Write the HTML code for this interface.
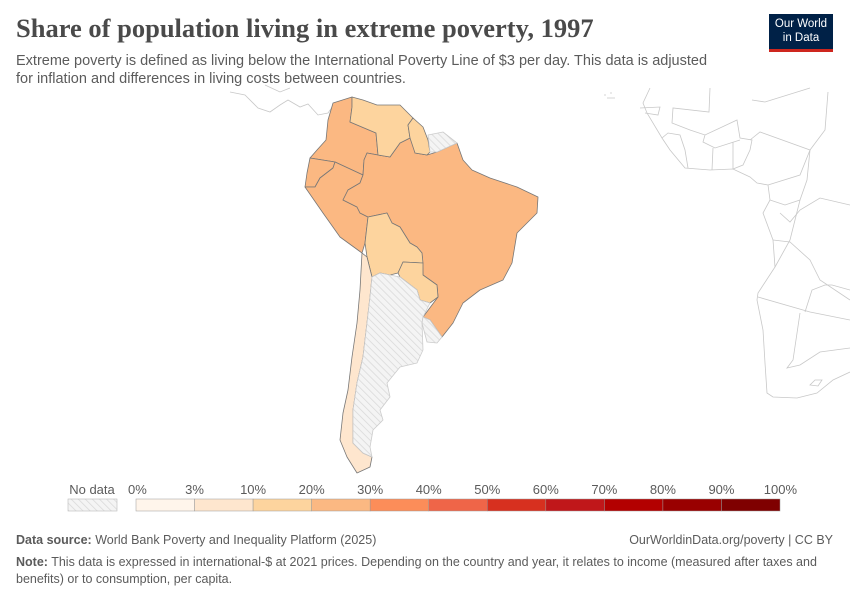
<!DOCTYPE html>
<html><head><meta charset="utf-8">
<style>
body{margin:0;width:850px;height:600px;background:#fff;font-family:"Liberation Sans",sans-serif;overflow:hidden;position:relative}
.t{position:absolute;left:16px;top:13px;font-family:"Liberation Serif",serif;font-weight:bold;font-size:26.5px;color:#4a4a4a;margin:0}
.s{position:absolute;left:16px;top:52px;font-size:14.5px;line-height:18px;color:#5b5b5b;width:700px}
.logo{position:absolute;left:769px;top:14px;width:64px;height:38px;background:#002147;border-bottom:3px solid #ce261e;color:#fff;font-size:11.5px;line-height:14px;text-align:center;padding-top:3px;box-sizing:border-box}
.f{position:absolute;left:16px;font-size:12.5px;color:#5b5b5b}
</style></head><body>
<h1 class="t">Share of population living in extreme poverty, 1997</h1>
<div class="s">Extreme poverty is defined as living below the International Poverty Line of $3 per day. This data is adjusted for inflation and differences in living costs between countries.</div>
<div class="logo">Our World<br>in Data</div>
<svg id="map" width="850" height="600" style="position:absolute;left:0;top:0">
<defs><pattern id="hatch" width="5" height="5" patternUnits="userSpaceOnUse" patternTransform="rotate(-45)"><rect width="5" height="5" fill="#f4f4f4"/><line x1="0" y1="0" x2="0" y2="5" stroke="#d8d8d8" stroke-width="1.5"/></pattern></defs>
<g fill="none" stroke="#c8c8c8" stroke-width="0.8">
<path d="M650,88 L643,103 L647,113 L662,138 L670,150 L685,168 L710,170 L733,169 L750,177 L757,183 L768,185 L770,200 L763,213 L773,240 L775,267 L758,293 L757,300 L763,330 L765,363 L767,393 L773,397 L797,398 L817,393 L833,380 L850,372"/>
<path d="M710,88 L709,112 L673,108 L672,123 L690,130 L705,135 L737,120 L740,138 L752,140 L750,150 L743,165 L733,169"/>
<path d="M705,135 L703,142 L715,148 L740,140 M713,148 L712,170 M733,142 L733,169 M750,140 L760,132 L810,150 L800,175 L768,185"/>
<path d="M752,100 L765,102 L810,88 M828,92 L825,130 L810,150 M810,150 L807,180 L800,200 L790,240 L775,267"/>
<path d="M770,200 L785,205 L800,200 M780,213 L790,222 L800,210 L820,198 L850,205 M773,240 L790,242 L810,260 L820,280 L850,300"/>
<path d="M758,297 L810,312 L850,320 M800,313 L793,360 L787,368 L800,365 L820,352 L850,348 M805,312 L812,290 L825,285 L832,285 L850,290"/>
<path d="M640,108 L660,107 L658,115 L645,113"/>
<path d="M662,138 L668,133 L680,135 L685,150 L688,168"/>
<path d="M815,380 L810,385 L818,386 L822,380 Z"/>
</g>
<g fill="none" stroke="#c8c8c8" stroke-width="0.8">
<path d="M230,92 L245,95 L258,108 L270,112 L280,105 L288,100 L300,107 L308,104 L318,115 L328,113 L333,106"/>
<path d="M265,85 L280,92 L290,88"/>
<path d="M604,95 L606,95 M610,93 L612,93 M607,98 L615,98"/>
</g>
<g id="countries" stroke="#777" stroke-width="0.8" stroke-linejoin="round"></g>
</svg>
<svg id="legend" width="850" height="40" style="position:absolute;left:0;top:478px"></svg>
<div class="f" style="top:533px"><b>Data source:</b> World Bank Poverty and Inequality Platform (2025)</div>
<div class="f" style="top:533px;left:auto;right:17px">OurWorldinData.org/poverty | CC BY</div>
<div class="f" style="top:554px;width:810px;line-height:17px"><b>Note:</b> This data is expressed in international-$ at 2021 prices. Depending on the country and year, it relates to income (measured after taxes and benefits) or to consumption, per capita.</div>
<script>
const binEdges=[0,3,10,20,30,40,50,60,70,80,90,100];
const binLabels=["0%","3%","10%","20%","30%","40%","50%","60%","70%","80%","90%","100%"];
const binColors=["#fff5eb","#fee6ce","#fdd49e","#fbb882","#fc8d59","#ef6548","#d7301f","#c0171a","#b30000","#990000","#7f0000"];
const countries=["colombia","ecuador","peru","brazil","venezuela","guyana","bolivia","paraguay","chile","argentina","uruguay","suriname"];
const shares=[25,28,25,25,15,15,18,15,5,null,null,null];
const shapes={
colombia:"333,103 352,97 352,107 350,122 376,133 378,155 367,153 364,160 363,175 335,162 310,158 317,150 326,140 328,120",
ecuador:"310,158 335,162 333,168 320,178 315,187 305,187 307,173",
peru:"305,187 315,187 320,178 333,168 335,162 363,175 360,183 348,190 343,200 357,207 360,213 368,217 365,243 362,253 340,237 323,213",
brazil:"364,160 367,153 378,155 390,157 400,143 412,137 415,153 427,155 437,152 457,143 463,160 472,170 490,178 517,187 538,197 537,213 517,233 512,263 503,280 480,290 463,303 453,323 442,337 430,320 423,317 438,297 437,285 423,275 422,253 417,247 410,243 400,227 392,223 387,213 368,217 360,213 357,207 343,200 348,190 360,183 363,175",
venezuela:"352,97 363,100 377,105 400,105 413,118 408,125 410,138 400,143 390,157 378,155 376,133 350,122 352,107",
guyana:"413,118 423,127 428,140 430,152 427,155 415,153 410,138 408,125",
bolivia:"368,217 387,213 392,223 400,227 410,243 417,247 422,253 423,263 403,262 398,273 390,275 380,273 372,277 367,257 365,243",
paraguay:"403,262 423,263 423,275 437,285 438,297 430,303 420,300 417,290 400,277 398,273",
chile:"362,253 367,257 372,277 370,297 367,323 363,357 357,383 353,410 353,443 363,453 372,457 370,467 357,473 347,457 340,440 343,413 348,390 352,357 357,323 360,290",
argentina:"372,277 380,273 390,275 400,277 417,290 420,300 430,303 423,317 422,323 423,350 417,363 400,367 387,383 390,397 380,410 383,420 373,430 370,447 372,457 363,453 353,443 353,410 357,383 363,357 367,323 370,297",
uruguay:"423,317 430,320 442,337 437,343 427,342 422,323",
suriname:"428,135 443,132 457,143 437,152 430,152"
};
function colorFor(v){if(v==null)return "url(#hatch)";for(let i=0;i<binColors.length;i++){if(v<binEdges[i+1])return binColors[i];}return binColors[binColors.length-1];}
const g=document.getElementById('countries');
countries.forEach((c,i)=>{const p=document.createElementNS('http://www.w3.org/2000/svg','polygon');
p.setAttribute('points',shapes[c]);p.setAttribute('fill',colorFor(shares[i]));
if(shares[i]==null)p.setAttribute('stroke','#ccc');


g.appendChild(p);});
const L=document.getElementById('legend');const NS='http://www.w3.org/2000/svg';
const x0=136,x1=780;const bx=v=>x0+(x1-x0)*binEdges.indexOf(v)/(binEdges.length-1);
function mk(t,a){const e=document.createElementNS(NS,t);for(const k in a)e.setAttribute(k,a[k]);L.appendChild(e);return e;}
let nd=mk('rect',{x:68,y:21,width:49,height:12,fill:'url(#hatch2)',stroke:'#bbb','stroke-width':0.6});


const defs=mk('defs',{});defs.innerHTML='<pattern id="hatch2" width="5" height="5" patternUnits="userSpaceOnUse" patternTransform="rotate(-45)"><rect width="5" height="5" fill="#f4f4f4"/><line x1="0" y1="0" x2="0" y2="5" stroke="#d8d8d8" stroke-width="1.5"/></pattern>';
let ndt=mk('text',{x:92,y:16,'text-anchor':'middle','font-size':13,fill:'#5b5b5b'});ndt.textContent='No data';


binColors.forEach((c,i)=>{const a=bx(binEdges[i]),b=bx(binEdges[i+1]);
const r=mk('rect',{x:a,y:21,width:b-a,height:12,fill:c,stroke:'#999','stroke-width':0.5});

});
binLabels.forEach((t,i)=>{const x=bx(binEdges[i]);const anchor=i==0?'start':(i==binLabels.length-1?'end':'middle');
const tx=mk('text',{x:i==0?x-8:(i==binLabels.length-1?x+17:x),y:16,'text-anchor':anchor,'font-size':13,fill:'#5b5b5b'});tx.textContent=t;

});
</script>
</body></html>
